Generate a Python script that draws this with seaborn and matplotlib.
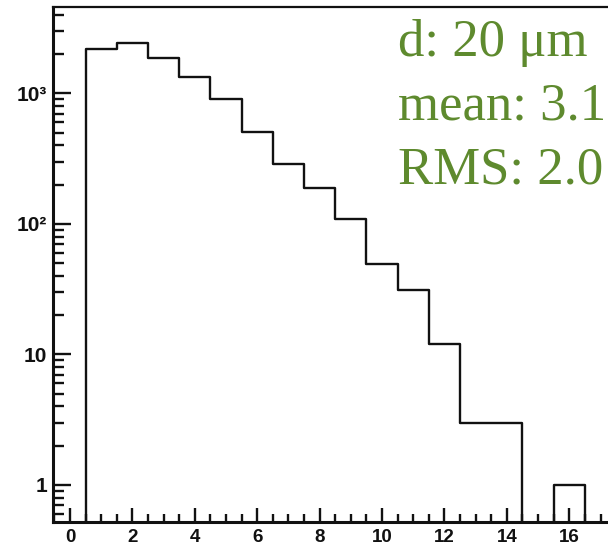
import matplotlib
matplotlib.use("Agg")
import matplotlib.pyplot as plt
import seaborn as sns
import pandas as pd
from matplotlib.ticker import FixedLocator, FixedFormatter, MultipleLocator, NullFormatter

# datos del histograma (centros de bin y cuentas), con bins vacíos en los extremos
centros = [0, 1, 2, 3, 4, 5, 6, 7, 8, 9, 10, 11, 12, 13, 14, 15, 16, 17]
cuentas = [0, 2210, 2420, 1870, 1340, 915, 510, 288, 188, 109, 49, 31, 12, 3, 3, 0, 1, 0]
bordes = [c - 0.5 for c in centros] + [centros[-1] + 0.5]

xticks = [0, 2, 4, 6, 8, 10, 12, 14, 16]
yticks = [1, 10, 100, 1000]
ytick_labels = ["1", "10", "10\u00b2", "10\u00b3"]
info = ["d: 20 \u03bcm", "mean: 3.1", "RMS: 2.0"]

df = pd.DataFrame({"d": centros, "n": cuentas})

sns.set_style("white")
plt.rcParams["font.family"] = ["Liberation Sans", "DejaVu Sans"]

fig = plt.figure(figsize=(6.08, 5.47), dpi=100)
ax = fig.add_axes([53 / 608, 25 / 547, 1 - 53 / 608, 515 / 547])

sns.histplot(data=df, x="d", weights="n", bins=bordes, element="step",
             fill=False, color="#111111", linewidth=1.7, ax=ax)
ax.set_yscale("log")
ax.set_xlim(-0.545, 17.24)
ax.set_ylim(0.52, 4600)

ax.xaxis.set_major_locator(FixedLocator(xticks))
ax.xaxis.set_minor_locator(MultipleLocator(0.5))
ax.yaxis.set_major_locator(FixedLocator(yticks))
ax.yaxis.set_major_formatter(FixedFormatter(ytick_labels))
ax.yaxis.set_minor_formatter(NullFormatter())
ax.set_xlabel("")
ax.set_ylabel("")

for lab in ax.get_xticklabels():
    lab.set_fontweight("bold")
    lab.set_fontsize(13.5)
    lab.set_color("#111111")
for lab in ax.get_yticklabels():
    lab.set_fontweight("bold")
    lab.set_fontsize(15)
    lab.set_color("#111111")

ax.tick_params(axis="both", which="both", direction="in", color="#111111",
               width=1.7, top=False, right=False, left=True, bottom=True)
ax.tick_params(axis="y", which="major", length=13, pad=4)
ax.tick_params(axis="y", which="minor", length=8)
ax.tick_params(axis="x", which="major", length=10, pad=5)
ax.tick_params(axis="x", which="minor", length=6)

ax.spines["right"].set_visible(False)
for s in ["left", "bottom"]:
    ax.spines[s].set_linewidth(2.2)
    ax.spines[s].set_color("#111111")
ax.spines["top"].set_linewidth(1.6)
ax.spines["top"].set_color("#111111")

# cuadro de texto en verde
ys = [56, 120, 184]
for t, y in zip(info, ys):
    fig.text(398 / 608, 1 - y / 547, t, color="#5e8a2e", fontsize=38,
             family=["Liberation Serif", "DejaVu Serif"], va="baseline", ha="left")

fig.savefig("out.png", dpi=100)
